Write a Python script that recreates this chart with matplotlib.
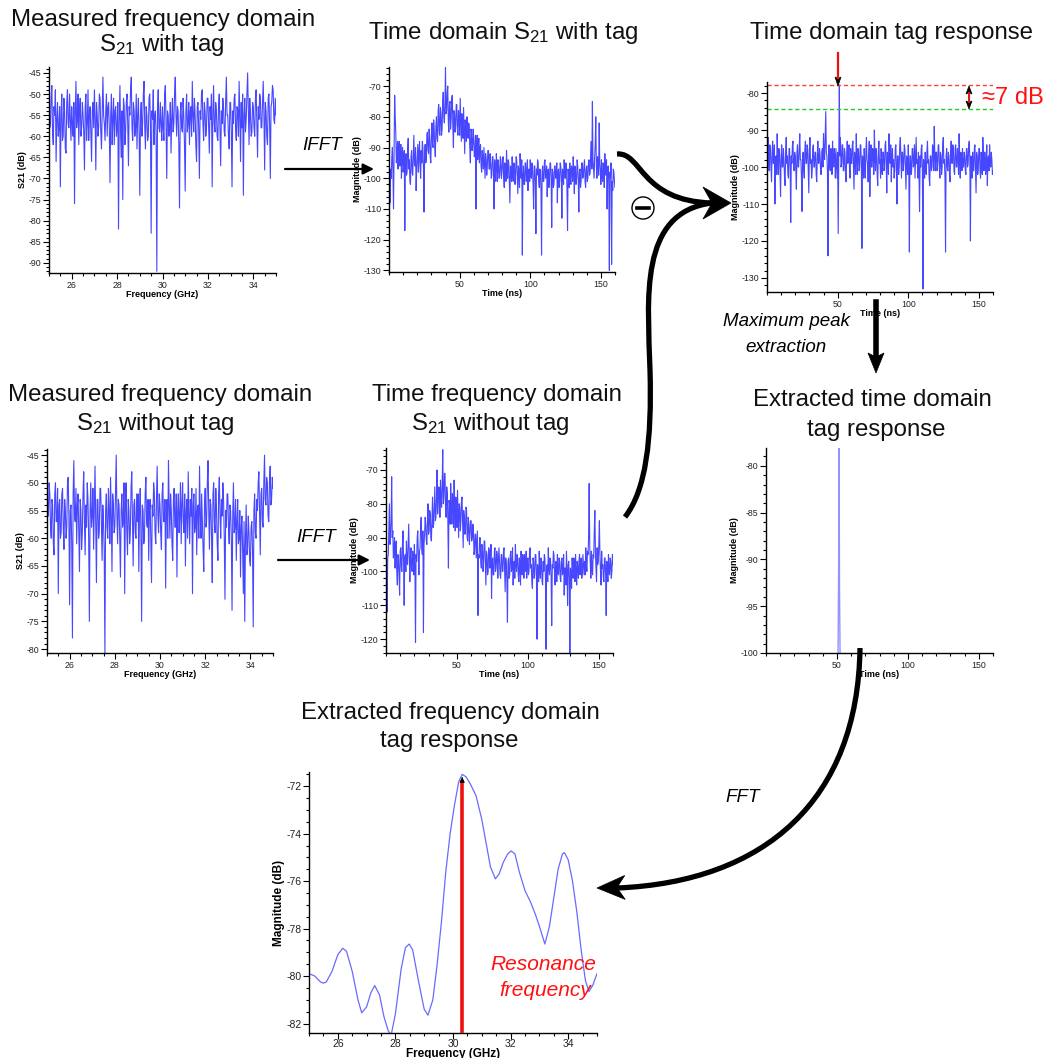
import numpy as np
import matplotlib
matplotlib.use("Agg")
import matplotlib.pyplot as plt
from matplotlib.patches import Circle, Polygon, PathPatch, FancyArrowPatch
from matplotlib.path import Path
from matplotlib.lines import Line2D
from matplotlib.ticker import MultipleLocator, FixedLocator

plt.rcParams['font.family'] = ['Liberation Sans', 'DejaVu Sans']
plt.rcParams['mathtext.fontset'] = 'custom'
plt.rcParams['mathtext.rm'] = 'Liberation Sans'
plt.rcParams['mathtext.it'] = 'Liberation Sans:italic'
plt.rcParams['axes.unicode_minus'] = False

# ---------------------------------------------------------------- data
# measured S21 (dB), 25-35 GHz sweep
s21_with_tag = [
    -50, -58, -57, -51, -48, -59, -62, -53, -55, -49, -66, -56, -52, -60, -58, -53, -72, -55, -50, -61, -60, -51, -54, -63, -64, -52, -49, -57, -58, -50, -56, -61,
    -53, -57, -60, -52, -76, -55, -47, -58, -56, -50, -62, -54, -51, -60, -58, -52, -55, -59, -68, -53, -50, -61, -57, -49, -61, -55, -53, -59, -66, -54, -52, -58,
    -49, -56, -68, -52, -55, -60, -58, -50, -51, -59, -63, -54, -46, -55, -57, -61, -54, -50, -60, -53, -52, -58, -71, -55, -50, -62, -56, -51, -62, -54, -53, -60,
    -58, -52, -82, -56, -48, -60, -65, -54, -75, -51, -53, -62, -59, -52, -50, -57, -67, -53, -55, -49, -46, -58, -61, -52, -54, -60, -58, -50, -63, -55, -51, -59,
    -74, -55, -52, -60, -57, -50, -47, -58, -63, -53, -55, -61, -60, -51, -50, -57, -83, -54, -56, -49, -62, -55, -54, -60, -92, -53, -49, -58, -59, -52, -57, -61,
    -53, -58, -61, -50, -48, -57, -70, -54, -55, -60, -58, -52, -64, -56, -51, -59, -57, -50, -46, -55, -60, -53, -54, -62, -77, -55, -52, -58, -59, -51, -55, -62,
    -73, -54, -50, -59, -57, -52, -62, -54, -53, -60, -47, -55, -59, -51, -55, -62, -66, -53, -52, -58, -70, -54, -56, -50, -49, -57, -61, -52, -54, -60, -58, -51,
    -51, -58, -64, -53, -56, -50, -72, -55, -48, -57, -59, -52, -54, -60, -61, -53, -50, -58, -67, -54, -57, -51, -53, -59, -60, -52, -46, -55, -55, -60, -63, -52,
    -52, -59, -72, -54, -57, -51, -50, -58, -61, -53, -54, -60, -47, -55, -66, -52, -58, -50, -74, -55, -51, -59, -56, -50, -45, -53, -62, -51, -55, -60, -59, -52,
    -53, -58, -60, -51, -49, -57, -65, -53, -56, -50, -51, -58, -58, -52, -47, -55, -68, -52, -54, -60, -62, -51, -50, -57, -70, -53, -52, -48, -49, -56, -57, -51,
    -55,
]

s21_without_tag = [
    -48, -55, -56, -50, -52, -58, -60, -53, -54, -61, -63, -52, -50, -57, -57, -51, -70, -54, -53, -60, -59, -52, -51, -58, -62, -53, -55, -60, -58, -50, -49, -56,
    -72, -55, -54, -61, -78, -52, -46, -56, -57, -51, -61, -54, -52, -59, -66, -53, -55, -62, -59, -52, -48, -57, -63, -54, -58, -50, -53, -60, -75, -55, -50, -58,
    -56, -51, -62, -55, -47, -58, -68, -53, -53, -60, -59, -51, -51, -57, -64, -54, -57, -62, -81, -55, -52, -58, -60, -51, -55, -61, -49, -56, -66, -52, -54, -59,
    -58, -52, -45, -56, -61, -53, -54, -60, -67, -55, -52, -58, -57, -50, -70, -54, -50, -59, -63, -53, -55, -61, -59, -51, -48, -57, -65, -54, -53, -59, -60, -52,
    -57, -52, -66, -55, -51, -59, -75, -54, -55, -61, -60, -52, -49, -57, -58, -53, -64, -55, -53, -60, -68, -54, -56, -50, -52, -59, -61, -53, -47, -56, -59, -52,
    -54, -59, -62, -52, -50, -57, -57, -53, -69, -55, -53, -60, -46, -54, -60, -52, -55, -61, -64, -53, -51, -58, -58, -52, -67, -55, -52, -59, -56, -50, -61, -54,
    -50, -57, -59, -52, -65, -55, -53, -60, -48, -56, -61, -53, -56, -51, -70, -54, -52, -59, -58, -51, -63, -55, -54, -60, -47, -56, -60, -52, -57, -62, -66, -54,
    -51, -58, -57, -50, -46, -55, -62, -53, -54, -60, -68, -52, -50, -57, -59, -51, -55, -61, -64, -52, -49, -56, -60, -53, -56, -50, -53, -60, -71, -55, -58, -52,
    -52, -58, -61, -54, -55, -60, -73, -56, -50, -59, -58, -53, -64, -57, -53, -61, -60, -55, -67, -58, -56, -62, -70, -57, -75, -60, -54, -63, -62, -56, -59, -64,
    -65, -58, -57, -62, -76, -55, -52, -59, -60, -53, -55, -50, -48, -56, -63, -52, -51, -57, -58, -50, -45, -53, -54, -49, -50, -56, -57, -50, -47, -54, -53, -49,
    -51,
]

# IFFT magnitude (dB), 0-160 ns
td_with_tag = [
    -95, -100, -108, -97, -100, -93, -90, -98, -110, -90, -73, -80, -85, -95, -92, -88, -97, -91, -88, -96, -95, -89, -100, -93, -90,
    -98, -96, -91, -117, -95, -92, -99, -98, -90, -87, -97, -94, -101, -102, -93, -91, -98, -99, -92, -86, -95, -96, -90, -104, -97,
    -93, -89, -98, -92, -88, -96, -100, -91, -95, -88, -90, -97, -111, -92, -89, -95, -94, -86, -85, -91, -92, -84, -87, -93, -95,
    -86, -82, -89, -90, -81, -84, -90, -93, -83, -80, -87, -88, -78, -76, -85, -86, -77, -79, -86, -84, -75, -72, -80, -82, -76,
    -64, -79, -78, -72, -70, -82, -85, -76, -75, -84, -81, -74, -73, -83, -90, -78, -79, -85, -83, -76, -76, -84, -86, -78, -80,
    -86, -74, -81, -88, -79, -82, -87, -77, -84, -92, -81, -84, -88, -80, -85, -87, -82, -83, -90, -95, -84, -85, -91, -89, -84,
    -88, -93, -92, -86, -110, -90, -86, -94, -91, -87, -95, -90, -89, -96, -98, -91, -93, -97, -90, -95, -100, -92, -94, -99, -96,
    -91, -91, -97, -97, -92, -95, -100, -99, -93, -93, -98, -110, -94, -97, -101, -92, -96, -101, -94, -96, -100, -99, -93, -94, -100,
    -98, -94, -93, -100, -103, -95, -96, -101, -91, -97, -100, -94, -95, -102, -108, -96, -97, -101, -93, -99, -101, -95, -96, -102, -99,
    -93, -94, -100, -105, -96, -98, -103, -92, -97, -100, -94, -125, -99, -96, -102, -102, -95, -95, -101, -99, -94, -104, -98, -97, -101,
    -94, -99, -100, -95, -97, -102, -110, -96, -96, -101, -118, -97, -99, -94, -95, -101, -103, -97, -98, -104, -125, -98, -96, -101, -101,
    -95, -94, -100, -99, -96, -106, -98, -97, -103, -100, -95, -95, -101, -116, -97, -98, -103, -102, -96, -96, -100, -99, -95, -108, -98,
    -97, -103, -101, -95, -96, -100, -113, -97, -98, -102, -94, -99, -100, -95, -96, -104, -117, -97, -99, -103, -95, -100, -102, -96, -97,
    -101, -93, -98, -105, -96, -98, -102, -100, -94, -96, -101, -111, -98, -97, -103, -101, -95, -95, -100, -99, -96, -94, -101, -103, -97,
    -96, -101, -100, -95, -94, -99, -98, -92, -88, -97, -75, -94, -97, -100, -93, -89, -80, -96, -100, -93, -95, -99, -82, -95, -98,
    -102, -94, -99, -101, -95, -97, -103, -92, -98, -99, -94, -110, -97, -96, -102, -130, -98, -100, -95, -128, -101, -104, -97, -98, -101,
    -103,
]

td_without_tag = [
    -98, -104, -112, -96, -95, -88, -80, -92, -90, -85, -72, -90, -88, -96, -94, -90, -99, -93, -91, -100, -104, -95, -96, -101, -107,
    -94, -93, -99, -100, -92, -88, -97, -110, -96, -95, -100, -91, -97, -98, -92, -86, -95, -103, -96, -93, -99, -100, -94, -96, -101,
    -92, -99, -121, -95, -97, -90, -88, -96, -101, -94, -93, -87, -84, -93, -95, -88, -118, -92, -89, -84, -86, -91, -92, -85, -80,
    -89, -88, -82, -83, -90, -91, -84, -78, -87, -86, -80, -75, -85, -84, -78, -70, -83, -80, -75, -76, -84, -73, -79, -81, -74,
    -64, -80, -78, -71, -71, -83, -84, -75, -77, -85, -99, -79, -80, -86, -74, -81, -86, -77, -79, -87, -73, -82, -88, -78, -82,
    -87, -76, -83, -90, -80, -81, -88, -85, -79, -78, -86, -93, -82, -84, -89, -88, -81, -82, -90, -91, -84, -86, -92, -89, -85,
    -85, -91, -90, -86, -87, -95, -94, -89, -89, -96, -92, -88, -113, -95, -96, -90, -90, -97, -99, -92, -93, -100, -97, -91, -91,
    -98, -104, -94, -95, -101, -100, -93, -94, -99, -98, -92, -108, -97, -96, -101, -101, -94, -93, -100, -99, -94, -95, -102, -97, -93,
    -97, -101, -102, -95, -95, -100, -100, -94, -93, -99, -106, -96, -98, -103, -115, -97, -96, -102, -101, -95, -94, -100, -99, -93, -104,
    -98, -97, -102, -92, -98, -100, -95, -96, -101, -103, -96, -98, -104, -94, -99, -101, -95, -97, -102, -95, -100, -99, -94, -102, -97,
    -96, -101, -100, -94, -93, -99, -98, -103, -105, -96, -97, -102, -101, -95, -95, -100, -120, -98, -99, -103, -94, -100, -102, -96, -97,
    -103, -104, -97, -100, -95, -96, -102, -123, -99, -98, -103, -93, -99, -101, -96, -97, -102, -116, -98, -99, -94, -95, -101, -104, -97,
    -98, -103, -95, -100, -101, -96, -97, -102, -103, -97, -96, -101, -100, -95, -107, -99, -99, -104, -94, -100, -110, -98, -97, -102, -124,
    -99, -100, -105, -96, -101, -102, -96, -98, -103, -95, -100, -104, -97, -99, -102, -97, -95, -101, -98, -96, -102, -100, -95, -98, -101,
    -97, -101, -93, -98, -100, -94, -95, -90, -74, -92, -98, -102, -94, -99, -101, -95, -96, -88, -82, -94, -99, -103, -93, -98, -97,
    -92, -85, -95, -100, -104, -94, -99, -98, -102, -103, -96, -96, -101, -113, -97, -99, -103, -95, -100, -101, -96, -97, -102, -100, -95,
    -98,
]

td_tag_response = [
    -96, -101, -92, -98, -101, -94, -95, -100, -104, -96, -93, -99, -99, -94, -110, -98, -97, -102, -91, -98, -102, -95, -96, -101, -108,
    -97, -94, -100, -100, -95, -98, -103, -105, -96, -92, -99, -97, -102, -103, -95, -95, -100, -115, -97, -99, -94, -93, -100, -101, -96,
    -97, -101, -106, -96, -94, -100, -100, -95, -91, -98, -98, -103, -112, -97, -96, -101, -103, -95, -93, -99, -99, -94, -95, -101, -107,
    -96, -92, -99, -98, -103, -101, -95, -94, -100, -100, -96, -96, -102, -104, -97, -93, -99, -99, -95, -97, -102, -102, -96, -95, -100,
    -91, -97, -98, -92, -85, -96, -97, -101, -124, -95, -94, -100, -101, -95, -96, -102, -93, -98, -100, -95, -97, -103, -95, -99, -103,
    -96, -118, -99, -77.8, -97, -92, -100, -99, -94, -94, -101, -101, -95, -96, -102, -104, -97, -93, -99, -98, -94, -100, -103, -95, -99,
    -99, -94, -93, -100, -106, -96, -97, -102, -91, -98, -102, -95, -96, -101, -100, -94, -94, -99, -122, -97, -98, -103, -95, -100, -103,
    -96, -92, -98, -99, -104, -97, -93, -108, -98, -94, -100, -100, -95, -96, -102, -90, -97, -101, -95, -97, -102, -105, -96, -93, -99,
    -98, -103, -95, -100, -102, -96, -96, -101, -100, -94, -93, -99, -107, -96, -97, -102, -91, -98, -99, -94, -104, -97, -95, -100, -98,
    -103, -101, -95, -94, -100, -110, -97, -97, -102, -100, -94, -92, -98, -103, -96, -96, -101, -99, -94, -95, -101, -106, -97, -98, -102,
    -94, -100, -123, -97, -97, -102, -101, -95, -95, -100, -99, -94, -103, -97, -92, -99, -98, -103, -96, -101, -112, -97, -100, -95, -94,
    -101, -133, -98, -99, -103, -96, -101, -102, -96, -93, -99, -98, -103, -105, -97, -97, -101, -100, -94, -95, -101, -89, -97, -101, -96,
    -96, -101, -99, -94, -94, -100, -103, -96, -97, -102, -100, -94, -92, -99, -98, -103, -123, -97, -95, -100, -101, -96, -97, -102, -104,
    -96, -93, -99, -99, -94, -96, -101, -102, -95, -94, -100, -100, -95, -97, -102, -91, -98, -103, -96, -98, -101, -95, -100, -100, -96,
    -97, -101, -102, -95, -95, -100, -99, -94, -93, -98, -120, -97, -98, -103, -96, -101, -101, -95, -94, -100, -107, -96, -97, -102, -100,
    -95, -95, -101, -103, -96, -98, -102, -92, -97, -101, -96, -96, -102, -99, -94, -105, -98, -97, -101, -94, -99, -100, -96, -98, -102,
    -101,
]

peak_time_ns = [50.8, 51.2, 51.5, 51.8, 52.2]
peak_mag_db = [-100, -91, -77.8, -93, -100]

tag_freq_ghz = [
    25.0, 25.2, 25.4, 25.5, 25.6, 25.8, 26.0, 26.17, 26.3, 26.5, 26.7, 26.83, 27.0, 27.15,
    27.28, 27.45, 27.6, 27.75, 27.85, 28.0, 28.2, 28.35, 28.48, 28.6, 28.8, 29.0, 29.13,
    29.3, 29.45, 29.6, 29.75, 29.9, 30.05, 30.2, 30.32, 30.45, 30.6, 30.8, 31.0, 31.15,
    31.3, 31.47, 31.6, 31.75, 31.9, 32.02, 32.15, 32.3, 32.5, 32.7, 32.86, 33.0, 33.19,
    33.35, 33.5, 33.65, 33.8, 33.87, 34.0, 34.15, 34.3, 34.45, 34.6, 34.72, 34.85, 35.0,
]
tag_mag_db = [
    -79.9, -80.0, -80.25, -80.3, -80.25, -79.8, -79.1, -78.83, -78.95, -79.8, -81.0, -81.55,
    -81.3, -80.7, -80.4, -80.8, -81.7, -82.3, -82.5, -81.6, -79.7, -78.8, -78.65, -78.9,
    -80.2, -81.4, -81.65, -81.0, -79.5, -77.7, -75.6, -74.0, -72.8, -71.8, -71.5, -71.6,
    -71.9, -72.4, -73.4, -74.4, -75.4, -75.9, -75.7, -75.2, -74.85, -74.73, -74.85, -75.6,
    -76.4, -76.9, -77.4, -77.9, -78.65, -77.9, -76.7, -75.5, -74.85, -74.8, -75.1, -76.0,
    -77.3, -78.9, -80.2, -80.65, -80.4, -79.9,
]

resonance_ghz = 30.32
resonance_db = -71.5
tag_level_db = -77.8
noise_level_db = -84.3

# sampling grids of the sweeps
freq_with = np.linspace(25, 35, len(s21_with_tag))
freq_without = np.linspace(25, 35, len(s21_without_tag))
t_with = np.linspace(0, 160, len(td_with_tag))
t_without = np.linspace(0, 160, len(td_without_tag))
t_tag = np.linspace(0, 160, len(td_tag_response))

# ---------------------------------------------------------------- layout helpers
W, H = 1053, 1058
fig = plt.figure(figsize=(W / 100, H / 100), dpi=100)
TR = fig.transFigure


def box(x0, y0, x1, y1):
    return [x0 / W, 1 - y1 / H, (x1 - x0) / W, (y1 - y0) / H]


def P(x, y):
    return (x / W, 1 - y / H)


TRACE = dict(color='#0000ff', lw=0.8, alpha=0.72)


def style(ax, xlim, ylim, xmajor, xminor, ymajor, yminor, xlabel, ylabel,
          tfs=6.3, lfs=6.5, xticks=None, xpad=0):
    ax.set_xlim(*xlim)
    ax.set_ylim(*ylim)
    if xticks is not None:
        ax.xaxis.set_major_locator(FixedLocator(xticks))
    else:
        ax.xaxis.set_major_locator(MultipleLocator(xmajor))
    ax.xaxis.set_minor_locator(MultipleLocator(xminor))
    ax.yaxis.set_major_locator(MultipleLocator(ymajor))
    ax.yaxis.set_minor_locator(MultipleLocator(yminor))
    for s in ('top', 'right'):
        ax.spines[s].set_visible(False)
    for s in ('left', 'bottom'):
        ax.spines[s].set_linewidth(1.0)
    ax.tick_params(which='both', direction='out', labelsize=tfs,
                   labelcolor='#222222', width=0.8, pad=1.5)
    ax.tick_params(which='major', length=4)
    ax.tick_params(which='minor', length=2)
    ax.set_xlabel(xlabel, fontsize=lfs, fontweight='bold', labelpad=xpad)
    ax.set_ylabel(ylabel, fontsize=lfs, fontweight='bold', labelpad=1)
    ax.patch.set_alpha(0)


# ---------------------------------------------------------------- panels
ax1 = fig.add_axes(box(49, 67, 276, 273))
ax1.plot(freq_with, s21_with_tag, **TRACE)
style(ax1, (25, 35), (-92.4, -43.6), 2, 0.5, 5, 1, 'Frequency (GHz)', 'S21 (dB)')

ax2 = fig.add_axes(box(389, 67, 615, 272))
ax2.plot(t_with, td_with_tag, **TRACE)
style(ax2, (0, 160), (-130.5, -63.8), 50, 10, 10, 2, 'Time (ns)', 'Magnitude (dB)',
      xticks=[50, 100, 150])

ax3 = fig.add_axes(box(767, 82, 993, 292))
ax3.plot(t_tag, td_tag_response, **TRACE)
ax3.axhline(tag_level_db, color='#ff4040', lw=1.0, ls=(0, (3, 2)))
ax3.axhline(noise_level_db, color='#22cc22', lw=1.0, ls=(0, (3, 2)))
style(ax3, (0, 160), (-133.8, -77), 50, 10, 10, 2, 'Time (ns)', 'Magnitude (dB)',
      xticks=[50, 100, 150])

ax4 = fig.add_axes(box(47, 449, 273, 653))
ax4.plot(freq_without, s21_without_tag, **TRACE)
style(ax4, (25, 35), (-80.7, -43.9), 2, 0.5, 5, 1, 'Frequency (GHz)', 'S21 (dB)')

ax5 = fig.add_axes(box(386, 448, 613, 653))
ax5.plot(t_without, td_without_tag, **TRACE)
style(ax5, (0, 160), (-124.1, -63.5), 50, 10, 10, 2, 'Time (ns)', 'Magnitude (dB)',
      xticks=[50, 100, 150])

ax6 = fig.add_axes(box(766, 448, 993, 653))
ax6.plot(peak_time_ns, peak_mag_db, color='#1010ff', lw=1.0, alpha=0.45)
style(ax6, (0, 160), (-100, -78.1), 50, 10, 5, 1, 'Time (ns)', 'Magnitude (dB)',
      xticks=[50, 100, 150])

ax7 = fig.add_axes(box(309, 772, 597, 1033))
ax7.plot(tag_freq_ghz, tag_mag_db, color='#6a6aff', lw=0.9)
style(ax7, (25, 35), (-82.4, -71.4), 2, 0.5, 2, 0.5, 'Frequency (GHz)', 'Magnitude (dB)',
      tfs=7.5, lfs=8.5, xpad=-1)
ax7.tick_params(axis='x', pad=0.5)
ax7.plot([resonance_ghz, resonance_ghz], [-82.4, resonance_db - 0.25],
         color='#ee1111', lw=2.6, solid_capstyle='butt', zorder=3)
ax7.annotate('', xy=(resonance_ghz, resonance_db), xytext=(resonance_ghz, resonance_db - 0.3),
             arrowprops=dict(arrowstyle='-|>', color='black', lw=0.8, mutation_scale=7),
             zorder=4)

# ---------------------------------------------------------------- titles
TFS = 17.3
sub = r'S$_{21}$'
titles = [
    (163, 20, 'Measured frequency domain'), (162, 45, sub + ' with tag'),
    (503, 33, 'Time domain ' + sub + ' with tag'),
    (892, 33, 'Time domain tag response'),
    (160, 395, 'Measured frequency domain'), (155, 424, sub + ' without tag'),
    (497, 395, 'Time frequency domain'), (490, 424, sub + ' without tag'),
    (872, 400, 'Extracted time domain'), (876, 430, 'tag response'),
    (450, 713, 'Extracted frequency domain'), (449, 741, 'tag response'),
]
for x, y, s in titles:
    fig.text(*P(x, y), s, fontsize=TFS, ha='center', va='center', color='#111111')

# ---------------------------------------------------------------- flow arrows
def simple_arrow(p0, p1, lw=1.6, ms=16, color='black'):
    fig.add_artist(FancyArrowPatch(P(*p0), P(*p1), transform=TR, arrowstyle='-|>',
                                   mutation_scale=ms, lw=lw, color=color,
                                   shrinkA=0, shrinkB=0))


def stealth(tip, d, L, Wd, notch, color='black'):
    d = np.asarray(d, float)
    d /= np.hypot(*d)
    n = np.array([-d[1], d[0]])
    t = np.asarray(tip, float)
    pts = [t, t - L * d + Wd / 2 * n, t - (L - notch) * d, t - L * d - Wd / 2 * n]
    fig.add_artist(Polygon([P(*p) for p in pts], closed=True, transform=TR,
                           facecolor=color, edgecolor=color, lw=0.5))


def curve(points, codes, lw=3.8):
    verts = [P(*p) for p in points]
    fig.add_artist(PathPatch(Path(verts, codes), transform=TR, fill=False,
                             lw=lw, edgecolor='black', capstyle='butt'))


# IFFT arrows
simple_arrow((285, 169), (374, 169))
simple_arrow((278, 560), (370, 560))
fig.text(*P(322, 146), 'IFFT', fontsize=13.5, style='italic', ha='center', va='center')
fig.text(*P(316, 538), 'IFFT', fontsize=13.5, style='italic', ha='center', va='center')

C4 = [Path.MOVETO, Path.CURVE4, Path.CURVE4, Path.CURVE4]
# subtraction branches merging into one arrow
curve([(617, 154), (642, 152), (640, 201), (712, 203)], C4)
curve([(625, 517), (646, 490), (652, 440), (650, 370),
       (648, 300), (638, 212), (712, 203)],
      [Path.MOVETO, Path.CURVE4, Path.CURVE4, Path.CURVE4,
       Path.CURVE4, Path.CURVE4, Path.CURVE4])
stealth((731, 203), (1, 0), 28, 32, 9)
fig.add_artist(Circle(P(643, 208), 11 / W, transform=TR, fill=False, lw=1.0,
                      edgecolor='black'))
fig.add_artist(Line2D([637 / W, 649 / W], [1 - 208 / H] * 2, transform=TR,
                      lw=2.6, color='black'))

# maximum peak extraction
fig.add_artist(Line2D([876 / W] * 2, [1 - 302 / H, 1 - 358 / H], transform=TR,
                      lw=4, color='black'))
stealth((876, 373), (0, 1), 20, 16, 4)
fig.text(*P(786, 321), 'Maximum peak', fontsize=13.5, style='italic', ha='center', va='center')
fig.text(*P(786, 347), 'extraction', fontsize=13.5, style='italic', ha='center', va='center')

# FFT
curve([(860, 648), (858, 800), (765, 882), (617, 888)], C4)
stealth((597, 888), (-1, 0.02), 28, 24, 8)
fig.text(*P(743, 797), 'FFT', fontsize=13.5, style='italic', ha='center', va='center')

# tag peak marker and level difference
fig.add_artist(Line2D([838 / W] * 2, [1 - 53 / H, 1 - 78 / H], transform=TR,
                      lw=1.6, color='#ee1111'))
stealth((838, 86), (0, 1), 9, 6, 1.5)
fig.add_artist(Line2D([969 / W] * 2, [1 - 93 / H, 1 - 102 / H], transform=TR,
                      lw=1.4, color='#ee1111'))
stealth((969, 86), (0, -1), 8, 6, 1.5)
stealth((969, 109), (0, 1), 8, 6, 1.5)
fig.add_artist(Line2D([969 / W] * 2, [1 - 92 / H, 1 - 103 / H], transform=TR,
                      lw=0.8, color='black', zorder=0.5))
fig.text(*P(982, 98), '≈7 dB', fontsize=17, color='#ff1111', ha='left', va='center')

fig.text(*P(543, 965), 'Resonance', fontsize=15, color='#ff1111', style='italic',
         ha='center', va='center')
fig.text(*P(545, 991), 'frequency', fontsize=15, color='#ff1111', style='italic',
         ha='center', va='center')

fig.savefig('out.png', dpi=100)
